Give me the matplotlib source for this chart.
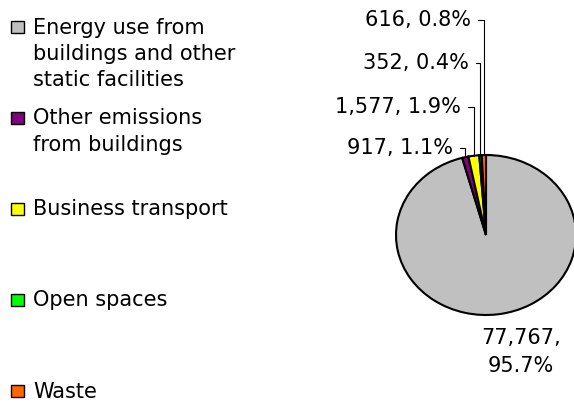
import matplotlib
matplotlib.use('Agg')
import numpy as np
import matplotlib.pyplot as plt
from matplotlib.patches import Rectangle

# Emissions by source
categories = ['Energy use from\nbuildings and other\nstatic facilities',
              'Other emissions\nfrom buildings',
              'Business transport',
              'Open spaces',
              'Waste']
values = [77767, 917, 1577, 352, 616]
colors = ['#C0C0C0', '#800080', '#FFFF00', '#00FF00', '#FF6600']

W, H = 574, 403
FONT = 15

plt.rcParams['font.family'] = ['DejaVu Sans']

fig = plt.figure(figsize=(W / 100, H / 100), dpi=100)
fig.patch.set_facecolor('white')

# Pie axes (slightly squashed ellipse like the original)
ax = fig.add_axes([396 / W, (H - 315) / H, 180 / W, 160 / H])
wedges, _ = ax.pie(values, colors=colors, startangle=90, counterclock=False,
                   wedgeprops=dict(edgecolor='black', linewidth=1.5))
for w in wedges:
    w.set_clip_on(False)
ax.set_xlim(-1, 1)
ax.set_ylim(-1, 1)
ax.set_aspect('auto')
ax.axis('off')

total = float(sum(values))


def label_text(v):
    return '{:,}, {:.1f}%'.format(v, 100.0 * v / total)


# Label positions for the small slices (right end x, center y in pixels)
label_pos = {1: (453, 148), 2: (461, 107), 3: (469, 63), 4: (471, 20)}

for i, (x, y) in label_pos.items():
    w = wedges[i]
    theta = np.deg2rad((w.theta1 + w.theta2) / 2.0)
    ax.annotate(label_text(values[i]),
                xy=(np.cos(theta), np.sin(theta)), xycoords='data',
                xytext=(x, H - y), textcoords='figure pixels',
                ha='right', va='center', fontsize=FONT,
                annotation_clip=False,
                arrowprops=dict(arrowstyle='-', color='black', lw=0.8,
                                relpos=(1, 0.5), shrinkA=3, shrinkB=0,
                                connectionstyle='angle,angleA=0,angleB=90,rad=0'))

# Big slice label below the pie
v0 = values[0]
fig.text(521 / W, 1 - 352 / H,
         '{:,},\n{:.1f}%'.format(v0, 100.0 * v0 / total),
         ha='center', va='center', fontsize=FONT, linespacing=1.5)

# Legend drawn by hand (entries spread down the left side)
ys = [27, 118, 209, 300, 391]
for name, col, y in zip(categories, colors, ys):
    fig.patches.append(Rectangle((11 / W, 1 - (y + 6) / H), 13 / W, 12 / H,
                                 transform=fig.transFigure, facecolor=col,
                                 edgecolor='black', linewidth=1.0))
    fig.text(33 / W, 1 - (y - 9.5) / H, name, ha='left', va='top',
             fontsize=FONT, linespacing=1.38)

fig.savefig('out.png', dpi=100)
